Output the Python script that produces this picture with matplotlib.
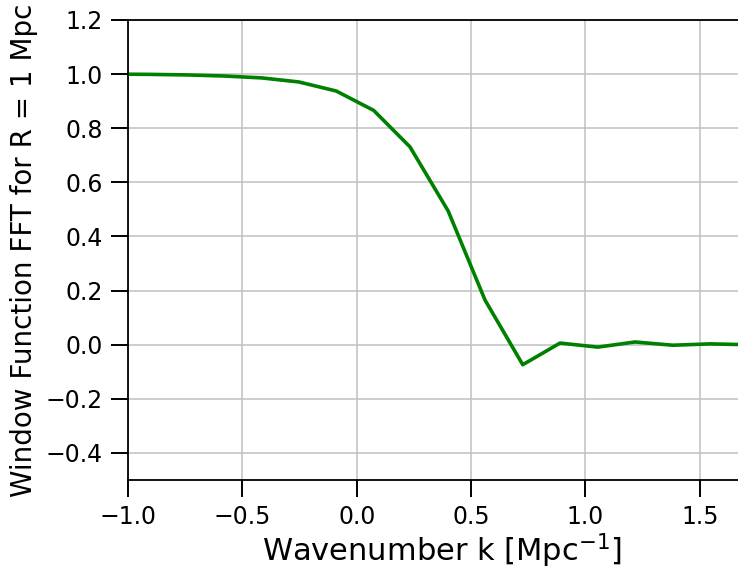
import matplotlib
matplotlib.use("Agg")
import matplotlib.pyplot as plt

# Wavenumber samples and the FFT of the window function for R = 1 Mpc
k = [-1.0705, -0.907, -0.7435, -0.58, -0.4165, -0.253, -0.0895, 0.074,
     0.233, 0.400, 0.561, 0.726, 0.889, 1.054, 1.217, 1.382, 1.545, 1.708]
w_fft = [1.000, 0.999, 0.997, 0.993, 0.986, 0.971, 0.9375, 0.866,
         0.731, 0.494, 0.165, -0.074, 0.006, -0.009, 0.010, -0.002, 0.003, 0.000]

x_ticks = [-1.0, -0.5, 0.0, 0.5, 1.0, 1.5]
y_ticks = [-0.4, -0.2, 0.0, 0.2, 0.4, 0.6, 0.8, 1.0, 1.2]

fig = plt.figure(figsize=(7.38, 5.71), dpi=100)
ax = fig.add_axes([0.1734, 0.1594, 0.8523, 0.8056])

ax.plot(k, w_fft, color="green", linewidth=2.6)

ax.set_xlim(-1.0, 1.75)
ax.set_ylim(-0.5, 1.2)
ax.set_xticks(x_ticks)
ax.set_yticks(y_ticks)
ax.grid(True, color="#c0c0c0", linewidth=1.1)
ax.set_axisbelow(True)

for side in ("left", "bottom", "top", "right"):
    ax.spines[side].set_linewidth(1.3)
    ax.spines[side].set_color("black")

ax.tick_params(axis="both", labelsize=17, length=12, width=1.4, pad=6)

ax.set_xlabel(r"Wavenumber k [Mpc$^{-1}$]", fontsize=22, labelpad=2)
ax.set_ylabel("Window Function FFT for R = 1 Mpc", fontsize=20, labelpad=6)

fig.savefig("out.png", dpi=100)
